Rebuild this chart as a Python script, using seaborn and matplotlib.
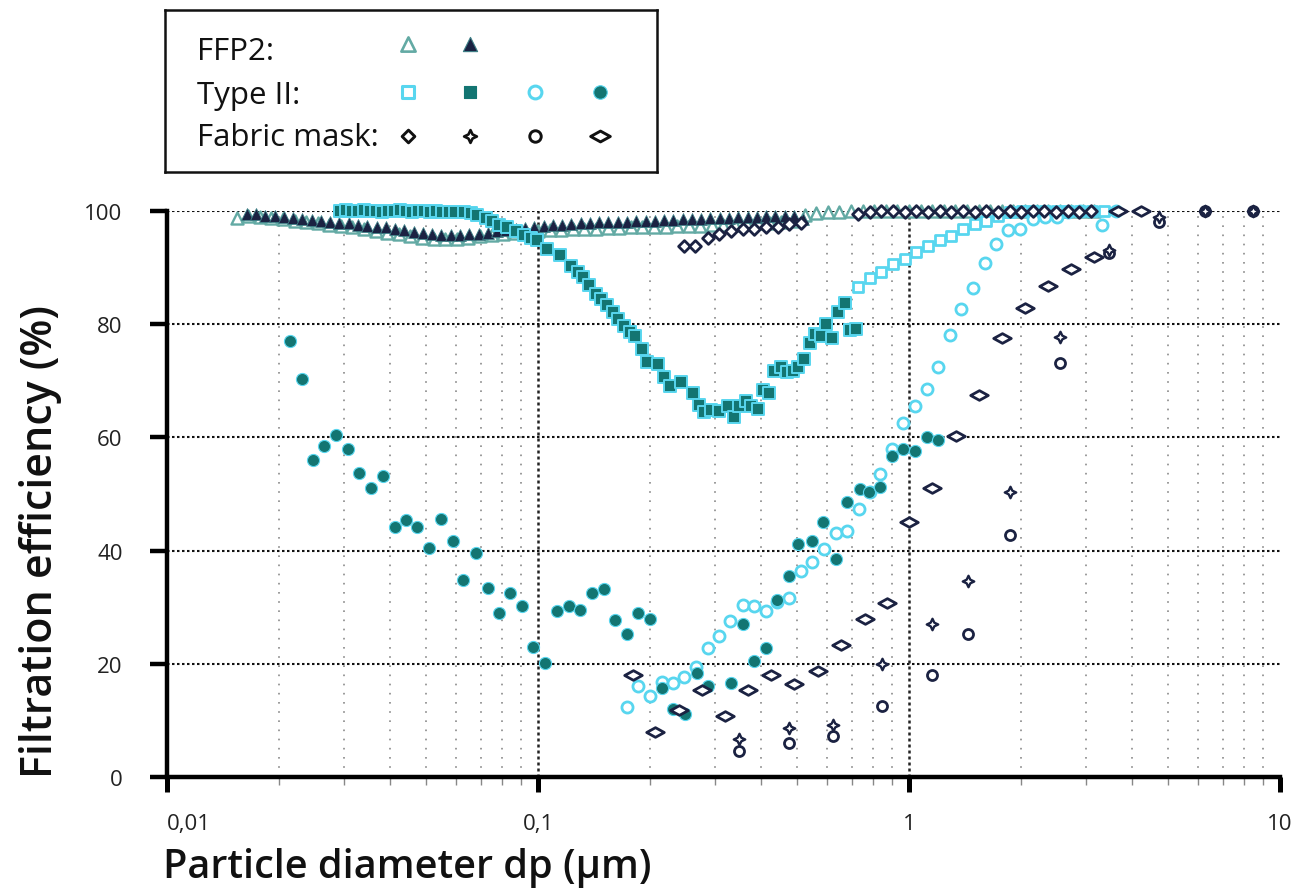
import numpy as np
import matplotlib
matplotlib.use("Agg")
import matplotlib.pyplot as plt
from matplotlib.path import Path
from matplotlib.markers import MarkerStyle
from matplotlib.ticker import LogLocator, NullFormatter
import seaborn as sns

sns.set_theme(style="white")
plt.rcParams['font.family'] = ['Open Sans', 'DejaVu Sans']

# ---------------- data ----------------
# FFP2 open triangles
ffp2_open_x = [0.01540, 0.01655, 0.01778, 0.01911, 0.02054, 0.02207, 0.02371, 0.02548, 0.02738, 0.02943,
               0.03162, 0.03398, 0.03652, 0.03924, 0.04217, 0.04532, 0.0487, 0.05233, 0.05623, 0.06043,
               0.06494, 0.06978, 0.07499, 0.08058, 0.0866, 0.09306,
               0.1, 0.1075, 0.1155, 0.1241, 0.1334, 0.1433, 0.154, 0.1655, 0.1778, 0.1911,
               0.2054, 0.2207, 0.2371, 0.2548, 0.2738, 0.2943, 0.3162, 0.3398, 0.3652, 0.3924,
               0.4217, 0.4532, 0.487, 0.5233, 0.5623, 0.6043, 0.6494, 0.6978, 0.7499, 0.8058,
               0.866, 0.9306,
               1.0, 1.075, 1.155, 1.241, 1.334, 1.433, 1.54, 1.655, 1.778, 1.911,
               2.054, 2.207, 2.371, 2.548, 2.738, 2.943, 3.162]
ffp2_open_y = [98.8, 99.2, 99.0, 98.8, 98.5, 98.3, 98.0, 97.8, 97.6, 97.3,
               97.1, 96.8, 96.5, 96.2, 95.9, 95.6, 95.3, 95.1, 95.0, 95.1,
               95.3, 95.5, 95.7, 95.9, 96.1, 96.3,
               96.5, 96.6, 96.7, 96.8, 96.9, 96.9, 97.0, 97.0, 97.1, 97.1,
               97.2, 97.2, 97.3, 97.3, 97.4, 97.5, 97.5, 97.6, 97.7, 97.8,
               97.9, 98.0, 98.2, 99.3, 99.7, 99.8, 99.9, 100.0, 100.0, 100.0,
               100.0, 100.0,
               100.0, 100.0, 100.0, 100.0, 100.0, 100.0, 100.0, 100.0, 100.0, 100.0,
               100.0, 100.0, 100.0, 100.0, 100.0, 100.0, 100.0]

# FFP2 filled triangles
ffp2_fill_x = [0.0164, 0.01737, 0.0184, 0.01949, 0.02065, 0.02187, 0.02317, 0.02454, 0.02599, 0.02753,
               0.02916, 0.03089, 0.03272, 0.03466, 0.03671, 0.03889, 0.04119, 0.04363, 0.04622, 0.04896,
               0.05186, 0.05493, 0.05819, 0.06163, 0.06529, 0.06916, 0.07325, 0.07759, 0.08219, 0.08706,
               0.09222, 0.09768, 0.1035, 0.1096, 0.1161, 0.123, 0.1303, 0.138, 0.1462, 0.1548,
               0.164, 0.1737, 0.184, 0.1949, 0.2065, 0.2187, 0.2317, 0.2454, 0.2599, 0.2753,
               0.2916, 0.3089, 0.3272, 0.3466, 0.3671, 0.3889, 0.4119, 0.4363, 0.4622, 0.4896,
               0.5186]
ffp2_fill_y = [99.4, 99.5, 99.2, 99.1, 98.9, 98.7, 98.6, 98.4, 98.2, 98.1,
               97.9, 97.8, 97.6, 97.4, 97.2, 97.1, 96.8, 96.6, 96.3, 96.1,
               95.9, 95.8, 95.7, 95.8, 95.9, 96.0, 96.2, 96.4, 96.6, 96.8,
               97.0, 97.2, 97.4, 97.5, 97.6, 97.7, 97.8, 97.9, 98.0, 98.0,
               98.1, 98.1, 98.2, 98.3, 98.3, 98.4, 98.4, 98.5, 98.6, 98.6,
               98.7, 98.8, 98.8, 98.9, 99.0, 99.0, 99.1, 99.1, 99.2, 99.2,
               98.6]

# Type II filled squares
t2_sq_fill_x = [0.02932, 0.03044, 0.03159, 0.0328, 0.03404, 0.03534, 0.03668, 0.03807, 0.03952, 0.04102,
                0.04258, 0.0442, 0.04588, 0.04762, 0.04943, 0.05131, 0.05326, 0.05528, 0.05738, 0.05957,
                0.0631, 0.0658, 0.0686, 0.0722, 0.0753, 0.0785, 0.0827, 0.0871, 0.0917, 0.0956, 0.0996,
                0.1060, 0.1147, 0.1226, 0.1278, 0.1326, 0.1373, 0.1432, 0.1477, 0.1533, 0.1588,
                0.1645, 0.1707, 0.1769, 0.1828, 0.1902, 0.1962, 0.2110, 0.2189, 0.2268, 0.2429,
                0.2612, 0.2722, 0.2808, 0.2927, 0.3083, 0.3247, 0.3383, 0.3490, 0.3638, 0.3753,
                0.3913, 0.4036, 0.4206, 0.4338, 0.4522, 0.4694, 0.4864, 0.5018, 0.5208, 0.5393,
                0.5563, 0.5774, 0.5984, 0.6210, 0.6435, 0.6705, 0.6918, 0.7211]
t2_sq_fill_y = [100.0, 100.1, 100.0, 100.0, 100.1, 100.0, 100.0, 99.9, 100.0, 100.0,
                100.1, 100.0, 99.9, 100.0, 100.0, 99.9, 100.0, 99.9, 99.8, 99.9,
                99.8, 99.6, 99.3, 98.8, 98.3, 97.6, 97.1, 96.4, 95.8, 95.2, 94.8,
                93.3, 92.2, 90.3, 89.3, 88.3, 86.9, 85.3, 84.5, 83.4, 82.2,
                81.0, 79.7, 78.7, 78.0, 75.7, 73.3, 73.0, 70.6, 69.0, 69.8,
                67.8, 65.8, 64.4, 64.8, 64.7, 65.6, 63.6, 65.6, 66.5, 65.6,
                65.1, 68.3, 67.8, 71.8, 72.4, 71.6, 71.8, 72.5, 73.9, 76.6,
                78.3, 77.9, 80.0, 77.5, 82.2, 83.7, 78.9, 79.2]

# Type II open squares
t2_sq_open_x = [0.729, 0.783, 0.842, 0.906, 0.974, 1.047, 1.126, 1.211, 1.297, 1.40,
                1.504, 1.616, 1.739, 1.87, 2.012, 2.16, 2.33, 2.50, 2.69, 2.89, 3.11, 3.35]
t2_sq_open_y = [86.5, 88.1, 89.3, 90.6, 91.5, 92.7, 93.9, 94.8, 95.6, 96.8,
                97.7, 98.3, 99.2, 99.8, 100.0, 100.0, 100.0, 100.0, 100.0, 100.0, 100.0, 100.0]

# Type II open circles
t2_ci_open_x = [0.1733, 0.1862, 0.2003, 0.2154, 0.2315, 0.248, 0.2666, 0.2868, 0.308, 0.330,
                0.3565, 0.3831, 0.412, 0.441, 0.4745, 0.5101, 0.5486, 0.5899, 0.634, 0.682,
                0.733, 0.786, 0.837, 0.90, 0.963, 1.038, 1.118, 1.199, 1.286, 1.382,
                1.486, 1.605, 1.72, 1.85, 1.99, 2.16, 2.33, 2.50, 2.69, 2.89, 3.31, 3.62]
t2_ci_open_y = [12.3, 16.0, 14.3, 16.8, 16.6, 17.6, 19.4, 22.8, 24.9, 27.6,
                30.4, 30.2, 29.3, 31.0, 31.7, 36.4, 37.9, 40.3, 43.1, 43.4,
                47.3, 50.3, 53.6, 58.0, 62.5, 65.6, 68.5, 72.4, 78.1, 82.7,
                86.4, 90.9, 94.2, 96.6, 96.8, 98.6, 98.9, 99.0, 99.8, 100.0, 97.6, 100.0]

# Type II filled circles
t2_ci_fill_x = [0.0215, 0.0231, 0.0247, 0.0265, 0.0286, 0.0308, 0.0330, 0.0355, 0.0382, 0.0411,
                0.0441, 0.0473, 0.0509, 0.0548, 0.0589, 0.0629, 0.0679, 0.0733, 0.0785, 0.0840,
                0.0904, 0.0972, 0.1044, 0.1123, 0.1213, 0.1299, 0.1396, 0.1502, 0.1614, 0.1733,
                0.1862, 0.2003, 0.2154, 0.2315, 0.249, 0.2677, 0.2877, 0.3314, 0.3565, 0.3831,
                0.412, 0.441, 0.4745, 0.5026, 0.548, 0.587, 0.634, 0.682, 0.737, 0.781,
                0.837, 0.90, 0.963, 1.038, 1.118, 1.199]
t2_ci_fill_y = [77.1, 70.4, 56.0, 58.4, 60.5, 58.0, 53.7, 51.0, 53.2, 44.2,
                45.4, 44.2, 40.5, 45.5, 41.7, 34.8, 39.5, 33.4, 28.9, 32.5,
                30.3, 22.9, 20.1, 29.4, 30.3, 29.5, 32.5, 33.3, 27.8, 25.3,
                29.0, 27.9, 15.7, 12.1, 11.1, 18.4, 16.0, 16.6, 27.0, 20.5,
                22.8, 31.3, 35.5, 41.2, 41.7, 45.0, 38.5, 48.6, 50.8, 50.3,
                51.3, 56.7, 57.9, 57.6, 60.1, 59.6]

# Fabric mask: small open diamonds
fab_dia_x = [0.247, 0.2655, 0.2868, 0.308, 0.331, 0.356, 0.383, 0.412, 0.443, 0.476,
             0.512, 0.729, 0.783, 0.842, 0.906, 0.974, 1.047, 1.126, 1.211, 1.30,
             1.397, 1.502, 1.615, 1.736, 1.866, 2.006, 2.157, 2.318, 2.493, 2.68,
             2.88, 3.10]
fab_dia_y = [93.9, 93.9, 95.2, 95.9, 96.5, 96.8, 96.9, 97.1, 97.2, 97.7,
             97.9, 99.5, 99.8, 100.0, 100.0, 99.9, 100.0, 99.9, 100.0, 99.9,
             100.0, 99.9, 100.0, 99.9, 100.0, 99.9, 100.0, 100.0, 99.9, 100.0,
             99.9, 100.0]

# Fabric mask: four-point stars
fab_star_x = [0.349, 0.474, 0.624, 0.846, 1.155, 1.441, 1.876, 2.557, 3.45, 4.71, 6.26, 8.46]
fab_star_y = [6.7, 8.7, 9.1, 20.0, 27.0, 34.6, 50.4, 77.8, 93.1, 98.9, 100.0, 100.0]

# Fabric mask: open circles
fab_circ_x = [0.349, 0.474, 0.624, 0.846, 1.155, 1.441, 1.876, 2.557, 3.45, 4.71, 6.26, 8.46]
fab_circ_y = [4.6, 6.0, 7.3, 12.5, 18.0, 25.2, 42.8, 73.2, 92.6, 98.0, 100.0, 100.0]

# Fabric mask: wide diamonds
fab_wide_x = [0.1799, 0.207, 0.2394, 0.2762, 0.3193, 0.369, 0.425, 0.491, 0.568, 0.657,
              0.759, 0.872, 1.0, 1.155, 1.335, 1.542, 1.782, 2.055, 2.37, 2.737,
              3.16, 3.65, 4.22]
fab_wide_y = [18.1, 7.9, 11.8, 15.4, 10.8, 15.4, 18.0, 16.4, 18.7, 23.3,
              28.0, 30.7, 45.0, 51.0, 60.2, 67.5, 77.5, 82.8, 86.7, 89.8,
              91.8, 100.0, 100.0]

x_ticks = [0.01, 0.1, 1, 10]
x_tick_labels = ['0,01', '0,1', '1', '10']
y_ticks = [0, 20, 40, 60, 80, 100]

legend_rows = ['FFP2:', 'Type II:', 'Fabric mask:']

# ---------------- style ----------------
NAVY = '#1b2242'
TEAL = '#137572'
CYAN = '#58d6ef'
FFP2C = '#63aaa4'
WHITE = 'white'

wide_path = Path([(-1, 0), (0, 0.55), (1, 0), (0, -0.55), (-1, 0)],
                 [Path.MOVETO, Path.LINETO, Path.LINETO, Path.LINETO, Path.CLOSEPOLY])
r = 0.32
star_path = Path([(0, 1), (r, r), (1, 0), (r, -r), (0, -1), (-r, -r), (-1, 0), (-r, r), (0, 1)],
                 [Path.MOVETO] + [Path.LINETO] * 7 + [Path.CLOSEPOLY])
WIDE = MarkerStyle(wide_path)
STAR = MarkerStyle(star_path)

W, H = 1307, 895
fig = plt.figure(figsize=(W / 100, H / 100), dpi=100)
fig.patch.set_facecolor('white')
L, R, T, B = 167, 1280, 212, 778
ax = fig.add_axes([L / W, 1 - B / H, (R - L) / W, (B - T) / H])
ax.set_facecolor('white')
ax.set_xscale('log')

series = [
    # x, y, marker, size, face, edge, lw, z
    (ffp2_open_x, ffp2_open_y, '^', 75, WHITE, FFP2C, 1.7, 3.0),
    (ffp2_fill_x, ffp2_fill_y, '^', 72, NAVY, '#3d7f86', 0.6, 3.2),
    (t2_sq_fill_x, t2_sq_fill_y, 's', 64, TEAL, CYAN, 1.4, 3.4),
    (t2_sq_open_x, t2_sq_open_y, 's', 58, WHITE, CYAN, 2.0, 3.5),
    (t2_ci_open_x, t2_ci_open_y, 'o', 64, WHITE, CYAN, 2.0, 3.6),
    (t2_ci_fill_x, t2_ci_fill_y, 'o', 76, TEAL, CYAN, 0.8, 3.8),
    (fab_wide_x, fab_wide_y, WIDE, 160, WHITE, NAVY, 2.0, 4.0),
    (fab_dia_x, fab_dia_y, 'D', 36, WHITE, NAVY, 2.0, 4.1),
    (fab_circ_x, fab_circ_y, 'o', 52, WHITE, NAVY, 2.0, 4.2),
    (fab_star_x, fab_star_y, STAR, 68, WHITE, NAVY, 1.7, 4.3),
]
for xs, ys, mk, s, fc, ec, lw, z in series:
    sns.scatterplot(x=xs, y=ys, marker=mk, s=s, color=fc, edgecolor=ec, linewidth=lw,
                    ax=ax, zorder=z, clip_on=False, legend=False)

ax.set_xlim(0.01, 10)
ax.set_ylim(0, 100)
ax.set_xticks(x_ticks)
ax.set_xticklabels(x_tick_labels)
ax.set_yticks(y_ticks)
ax.xaxis.set_minor_locator(LogLocator(base=10, subs=np.arange(2, 10)))
ax.xaxis.set_minor_formatter(NullFormatter())

for sp in ['top', 'right']:
    ax.spines[sp].set_visible(False)
for sp in ['left', 'bottom']:
    ax.spines[sp].set_linewidth(3.2)
    ax.spines[sp].set_color('black')

ax.tick_params(axis='y', which='major', direction='out', length=12, width=3.2, pad=20,
               labelsize=16, labelcolor='#222222', color='black', left=True)
ax.tick_params(axis='x', which='major', direction='out', length=11, width=3.6, pad=15,
               labelsize=16, labelcolor='#222222', color='black', bottom=True)
ax.tick_params(axis='x', which='minor', direction='out', length=6, width=1.0,
               color='#888888', bottom=True)
ax.get_xticklabels()[0].set_horizontalalignment('left')

ax.set_axisbelow(True)
ax.grid(axis='y', which='major', color='#111111', linestyle=(0, (1.2, 1.2)), linewidth=1.5)
ax.grid(axis='x', which='major', color='#222222', linestyle=(0, (1.2, 1.2)), linewidth=1.8)
ax.grid(axis='x', which='minor', color='#8a8a8a', linestyle=(0, (1, 4.5)), linewidth=1.2)
ax.xaxis.get_major_ticks()[-1].gridline.set_visible(False)
ax.xaxis.get_major_ticks()[0].gridline.set_visible(False)

ax.set_xlabel('Particle diameter dp (µm)', loc='left', fontsize=28.5, fontweight='semibold',
              color='#111111')
ax.xaxis.set_label_coords(-0.004, -0.124)
ax.set_ylabel('Filtration efficiency (%)', loc='bottom', fontsize=31, fontweight='semibold',
              color='#111111')
ax.yaxis.set_label_coords(-0.094, 0.0)

# ---------------- legend box ----------------
lx0, lx1, ly0, ly1 = 165, 657, 11, 173
lax = fig.add_axes([lx0 / W, 1 - ly1 / H, (lx1 - lx0) / W, (ly1 - ly0) / H])
lax.set_xlim(lx0, lx1)
lax.set_ylim(ly1, ly0)
lax.set_xticks([])
lax.set_yticks([])
for sp in lax.spines.values():
    sp.set_visible(True)
    sp.set_linewidth(1.8)
    sp.set_color('#111111')
lax.set_facecolor('white')

text_base = [60, 104, 146]
mk_row = [45, 93, 137]
mk_col = [408, 470, 535, 600]
for lbl, yb in zip(legend_rows, text_base):
    lax.text(197, yb, lbl, fontsize=22.5, va='baseline', ha='left', color='#111111')

legend_marks = [
    [('^', 105, WHITE, FFP2C, 1.9), ('^', 105, NAVY, '#3d7f86', 0.8)],
    [('s', 80, WHITE, CYAN, 2.2), ('s', 85, TEAL, TEAL, 0.8), ('o', 85, WHITE, CYAN, 2.2), ('o', 95, TEAL, CYAN, 0.8)],
    [('D', 42, WHITE, '#111111', 2.1), (STAR, 85, WHITE, '#111111', 1.9), ('o', 68, WHITE, '#111111', 2.1), (WIDE, 200, WHITE, '#111111', 2.1)],
]
for row_y, marks in zip(mk_row, legend_marks):
    for cx, (mk, s, fc, ec, lw) in zip(mk_col, marks):
        lax.scatter([cx], [row_y], marker=mk, s=s, c=fc, edgecolors=ec, linewidths=lw, zorder=3)

fig.savefig('out.png', dpi=100, facecolor='white')
